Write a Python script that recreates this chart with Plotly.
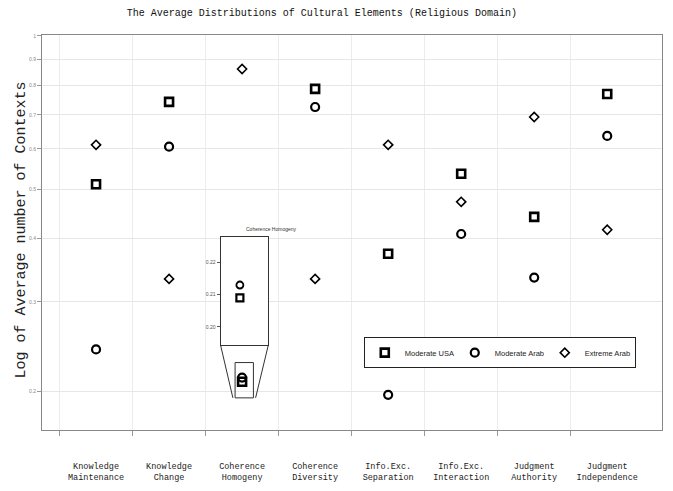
import math
import plotly.graph_objects as go

# ---------------- data ----------------
categories = ["Knowledge<br>Maintenance", "Knowledge<br>Change", "Coherence<br>Homogeny",
              "Coherence<br>Diversity", "Info.Exc.<br>Separation", "Info.Exc.<br>Interaction",
              "Judgment<br>Authority", "Judgment<br>Independence"]
moderate_usa = [0.511, 0.742, 0.209, 0.787, 0.373, 0.536, 0.441, 0.769]
moderate_arab = [0.242, 0.606, 0.213, 0.725, 0.197, 0.408, 0.335, 0.636]
extreme_arab = [0.611, 0.333, 0.861, 0.333, 0.611, 0.472, 0.693, 0.416]
y_tick_vals = [0.2, 0.3, 0.4, 0.5, 0.6, 0.7, 0.8, 0.9, 1]
y_tick_text = ["0.2", "0.3", "0.4", "0.5", "0.6", "0.7", "0.8", "0.9", "1"]
inset_tick_vals = [0.20, 0.21, 0.22]
inset_tick_text = ["0.20", "0.21", "0.22"]
zoom_index = 2  # Coherence Homogeny

xs = list(range(len(categories)))

# ---------------- layout constants ----------------
X_RANGE = [-0.74, 7.75]
Y_RANGE = [math.log10(0.168), math.log10(1.0045)]
INSET_Y = [0.1943, 0.228]
INSET_X = [-0.81, 1.19]
INSET_DOM_X = [0.288, 0.365]
INSET_DOM_Y = [0.215, 0.489]
ZOOM_BOX_X = [zoom_index - 0.096, zoom_index + 0.155]

mono = "Liberation Mono"
sans = "Liberation Sans"

fig = go.Figure()

fig.add_trace(go.Scatter(x=xs, y=moderate_usa, mode="markers", name="Moderate USA",
                         marker=dict(symbol="square-open", size=8, line=dict(width=2.6, color="black"), color="black")))
fig.add_trace(go.Scatter(x=xs, y=moderate_arab, mode="markers", name="Moderate Arab",
                         marker=dict(symbol="circle-open", size=8, line=dict(width=2.2, color="black"), color="black")))
fig.add_trace(go.Scatter(x=xs, y=extreme_arab, mode="markers", name="Extreme Arab",
                         marker=dict(symbol="diamond-open", size=7, line=dict(width=1.6, color="black"), color="black")))

# inset traces (zoomed Coherence Homogeny)
fig.add_trace(go.Scatter(x=[0], y=[moderate_usa[zoom_index]], xaxis="x2", yaxis="y2", mode="markers",
                         showlegend=False,
                         marker=dict(symbol="square-open", size=7, color="black",
                                     line=dict(width=2.2, color="black"))))
fig.add_trace(go.Scatter(x=[0], y=[moderate_arab[zoom_index]], xaxis="x2", yaxis="y2", mode="markers",
                         showlegend=False,
                         marker=dict(symbol="circle-open", size=7, color="black",
                                     line=dict(width=1.8, color="black"))))

# zoom box + funnel lines in main data coordinates
def dom_to_x(f):
    return X_RANGE[0] + f * (X_RANGE[1] - X_RANGE[0])

def dom_to_y(f):
    return 10 ** (Y_RANGE[0] + f * (Y_RANGE[1] - Y_RANGE[0]))

zx0, zx1 = ZOOM_BOX_X
zy0, zy1 = INSET_Y
fig.add_trace(go.Scatter(x=[zx0, zx1, zx1, zx0, zx0], y=[zy0, zy0, zy1, zy1, zy0], mode="lines",
                         line=dict(color="#333", width=1), showlegend=False, hoverinfo="skip"))
ix0, ix1 = dom_to_x(INSET_DOM_X[0]), dom_to_x(INSET_DOM_X[1])
iyb = dom_to_y(INSET_DOM_Y[0])
fig.add_trace(go.Scatter(x=[ix0, zx0 - 0.03, None, ix1, zx1 + 0.03], y=[iyb, zy0, None, iyb, zy0], mode="lines",
                         line=dict(color="#333", width=1), showlegend=False, hoverinfo="skip", cliponaxis=False))

fig.add_annotation(text="Coherence Homogeny", xref="paper", yref="paper",
                   x=(INSET_DOM_X[0] + INSET_DOM_X[1]) / 2, y=INSET_DOM_Y[1], yanchor="bottom",
                   yshift=3, showarrow=False, font=dict(family=sans, size=5, color="#333"))

# y-axis title as annotation (placed close to the page edge)
fig.add_annotation(text="Log of Average number of Contexts", xref="paper", yref="paper",
                   x=0, y=0.505, xanchor="center", yanchor="middle", xshift=-20, textangle=-90,
                   showarrow=False, font=dict(family=mono, size=15, color="#222"))

fig.update_layout(
    width=665, height=483,
    margin=dict(l=34, r=11, t=27, b=61),
    paper_bgcolor="white", plot_bgcolor="white",
    title=dict(text="The Average Distributions of Cultural Elements (Religious Domain)",
               x=0.472, xanchor="center", y=0.9897, yanchor="middle",
               font=dict(family=mono, size=10, color="#111")),
    xaxis=dict(range=X_RANGE, tickvals=xs, ticktext=categories, showgrid=False, zeroline=False,
               automargin=False,
               tickfont=dict(family=mono, size=8.5, color="#222"), ticks="", ticklabelstandoff=28,
               showline=True, linecolor="#888", linewidth=1, mirror=True,
               minor=dict(tickvals=[i + 0.5 for i in xs[:-1]] + [-0.5], showgrid=True,
                          gridcolor="#ececec", gridwidth=1, ticks="outside", ticklen=5, tickcolor="#999")),
    yaxis=dict(type="log", range=Y_RANGE, tickvals=y_tick_vals, ticktext=y_tick_text,
               showgrid=True, gridcolor="#e6e6e6", zeroline=False, automargin=False,
               tickfont=dict(family=sans, size=5, color="#888"), ticks="outside", ticklen=4,
               tickcolor="#999", showline=True, linecolor="#888", linewidth=1, mirror=True),
    xaxis2=dict(domain=INSET_DOM_X, anchor="y2", range=INSET_X, showticklabels=False, showgrid=False,
                zeroline=False, showline=True, linecolor="#333", mirror=True, ticks="", automargin=False),
    yaxis2=dict(domain=INSET_DOM_Y, anchor="x2", range=INSET_Y, tickvals=inset_tick_vals,
                ticktext=inset_tick_text, showgrid=False, zeroline=False, showline=True,
                linecolor="#333", mirror=True, ticks="outside", ticklen=3, tickcolor="#555",
                automargin=False, tickfont=dict(family=sans, size=5, color="#555")),
    legend=dict(orientation="h", x=0.519, y=0.235, xanchor="left", yanchor="top",
                bordercolor="#222", borderwidth=1, bgcolor="white",
                font=dict(family=sans, size=7.5, color="#222"), entrywidth=45,
                itemwidth=30),
    showlegend=True,
)

fig.write_html("out.html")
